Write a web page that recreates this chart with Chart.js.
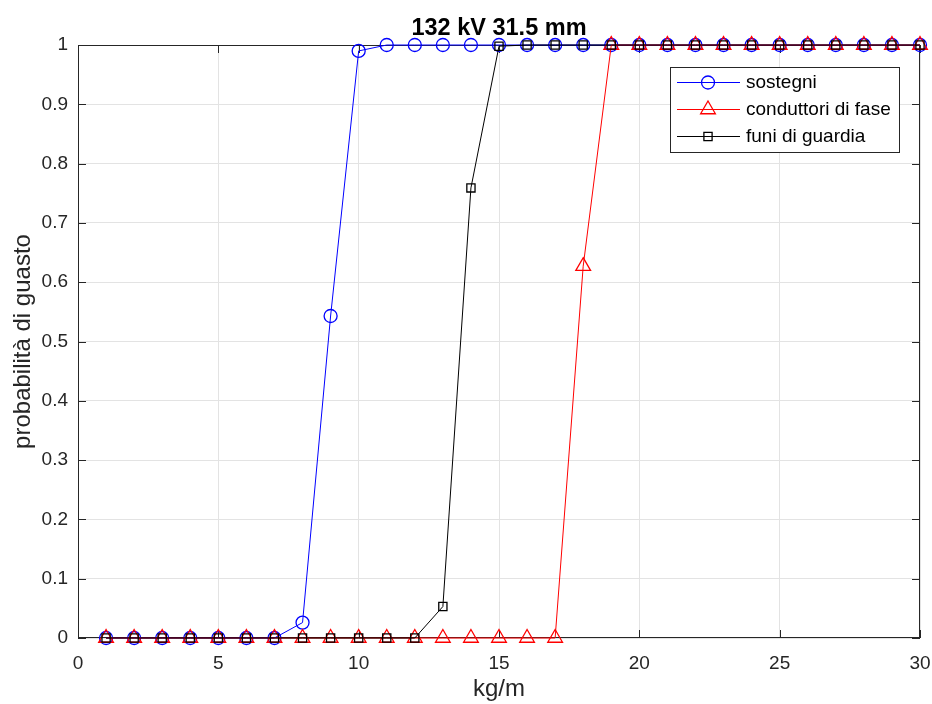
<!DOCTYPE html>
<html>
<head>
<meta charset="utf-8">
<title>132 kV 31.5 mm</title>
<script src="https://cdn.jsdelivr.net/npm/chart.js@4/dist/chart.umd.min.js"></script>
<style>
  html, body { margin: 0; padding: 0; background: #fff; }
  canvas { display: block; }
</style>
</head>
<body>
<canvas id="chart" width="932" height="704"></canvas>
<script>
const loads = [1, 2, 3, 4, 5, 6, 7, 8, 9, 10, 11, 12, 13, 14, 15, 16, 17, 18, 19, 20, 21, 22, 23, 24, 25, 26, 27, 28, 29, 30];
const sostegni = [0, 0, 0, 0, 0, 0, 0, 0.026, 0.543, 0.99, 1, 1, 1, 1, 1, 1, 1, 1, 1, 1, 1, 1, 1, 1, 1, 1, 1, 1, 1, 1];
const conduttori = [0, 0, 0, 0, 0, 0, 0, 0, 0, 0, 0, 0, 0, 0, 0, 0, 0, 0.627, 1, 1, 1, 1, 1, 1, 1, 1, 1, 1, 1, 1];
const funi = [0, 0, 0, 0, 0, 0, 0, 0, 0, 0, 0, 0, 0.053, 0.759, 0.998, 1, 1, 1, 1, 1, 1, 1, 1, 1, 1, 1, 1, 1, 1, 1];
const seriesNames = ['sostegni', 'conduttori di fase', 'funi di guardia'];
const titleText = '132 kV 31.5 mm';

const FONT = "'Liberation Sans', Arial, Helvetica, sans-serif";
const TEXT = '#262626';

function points(ys) {
    return loads.map((x, i) => ({ x: x, y: ys[i] }));
}

// MATLAB-like frame: box, inward ticks, title, legend
const matlabFrame = {
    id: 'matlabFrame',
    beforeDatasetsDraw(chart) {
        const { ctx, chartArea: a, scales } = chart;
        ctx.save();
        ctx.strokeStyle = TEXT;
        ctx.lineWidth = 1;
        ctx.strokeRect(a.left + 0.5, a.top + 0.5, a.right - a.left - 1, a.bottom - a.top - 1);
        ctx.beginPath();
        const tl = 8;
        scales.x.ticks.forEach(t => {
            const px = Math.round(scales.x.getPixelForValue(t.value)) + 0.5;
            ctx.moveTo(px, a.bottom); ctx.lineTo(px, a.bottom - tl);
            ctx.moveTo(px, a.top); ctx.lineTo(px, a.top + tl);
        });
        scales.y.ticks.forEach(t => {
            const py = Math.round(scales.y.getPixelForValue(t.value)) + 0.5;
            ctx.moveTo(a.left, py); ctx.lineTo(a.left + tl, py);
            ctx.moveTo(a.right, py); ctx.lineTo(a.right - tl, py);
        });
        ctx.stroke();
        ctx.restore();
    },
    afterDraw(chart) {
        const { ctx, chartArea: a } = chart;
        ctx.save();
        // title
        ctx.fillStyle = '#000';
        ctx.font = 'bold 23.5px ' + FONT;
        ctx.textAlign = 'center';
        ctx.textBaseline = 'alphabetic';
        ctx.fillText(titleText, (a.left + a.right) / 2, 35);

        // legend
        const bx = 670, by = 67, bw = 229, bh = 85;
        ctx.fillStyle = '#fff';
        ctx.fillRect(bx, by, bw, bh);
        ctx.strokeStyle = TEXT;
        ctx.lineWidth = 1;
        ctx.strokeRect(bx + 0.5, by + 0.5, bw, bh);
        const rows = [82, 109, 136];
        chart.data.datasets.forEach((ds, i) => {
            const y = rows[i];
            ctx.strokeStyle = ds.borderColor;
            ctx.lineWidth = 1;
            ctx.beginPath();
            ctx.moveTo(677, y + 0.5); ctx.lineTo(740, y + 0.5);
            ctx.stroke();
            ctx.fillStyle = 'rgba(0,0,0,0)';
            ctx.lineWidth = ds.pointBorderWidth;
            Chart.helpers.drawPoint(ctx, {
                pointStyle: ds.pointStyle,
                radius: ds.pointRadius,
                rotation: 0,
                borderWidth: ds.pointBorderWidth
            }, 708, y + 0.5);
            ctx.fillStyle = '#000';
            ctx.font = '19px ' + FONT;
            ctx.textAlign = 'left';
            ctx.textBaseline = 'middle';
            ctx.fillText(seriesNames[i], 746, y + 1);
        });
        ctx.restore();
    }
};

const datasets = [
    {
        label: seriesNames[0],
        data: points(sostegni),
        borderColor: '#0000ff',
        pointStyle: 'circle',
        pointRadius: 6.5,
        order: 3
    },
    {
        label: seriesNames[1],
        data: points(conduttori),
        borderColor: '#ff0000',
        pointStyle: 'triangle',
        pointRadius: 8.5,
        order: 2
    },
    {
        label: seriesNames[2],
        data: points(funi),
        borderColor: '#000000',
        pointStyle: 'rect',
        pointRadius: 5.8,
        order: 1
    }
].map(ds => Object.assign({
    borderWidth: 1,
    pointBorderWidth: 1.3,
    pointBorderColor: ds.borderColor,
    pointBackgroundColor: 'rgba(0,0,0,0)',
    backgroundColor: 'rgba(0,0,0,0)',
    tension: 0,
    clip: false
}, ds));

new Chart(document.getElementById('chart'), {
    type: 'line',
    data: { datasets: datasets },
    options: {
        responsive: false,
        animation: false,
        layout: { padding: { top: 45, right: 12, left: 0, bottom: 0 } },
        plugins: {
            legend: { display: false },
            tooltip: { enabled: false },
            title: { display: false }
        },
        scales: {
            x: {
                type: 'linear',
                min: 0,
                max: 30,
                ticks: {
                    stepSize: 5,
                    padding: 14,
                    color: TEXT,
                    font: { family: FONT, size: 19 },
                    maxRotation: 0
                },
                grid: { color: '#e3e3e3', drawTicks: false },
                border: { display: false },
                title: {
                    display: true,
                    text: 'kg/m',
                    color: TEXT,
                    font: { family: FONT, size: 24, lineHeight: 1.2 },
                    padding: { top: 0, bottom: 0 }
                },
                afterFit(scale) {
                    scale.height = 66;
                    scale.paddingLeft = 0;
                    scale.paddingRight = 0;
                }
            },
            y: {
                min: 0,
                max: 1,
                ticks: {
                    stepSize: 0.1,
                    padding: 10,
                    color: TEXT,
                    font: { family: FONT, size: 19 },
                    callback: v => String(Math.round(v * 10) / 10)
                },
                grid: { color: '#e3e3e3', drawTicks: false },
                border: { display: false },
                title: {
                    display: true,
                    text: 'probabilità di guasto',
                    color: TEXT,
                    font: { family: FONT, size: 24, lineHeight: 1.2 },
                    padding: { top: 9, bottom: 0 }
                },
                afterFit(scale) {
                    scale.width = 78;
                    scale.paddingTop = 0;
                    scale.paddingBottom = 0;
                }
            }
        }
    },
    plugins: [matlabFrame]
});
</script>
</body>
</html>
